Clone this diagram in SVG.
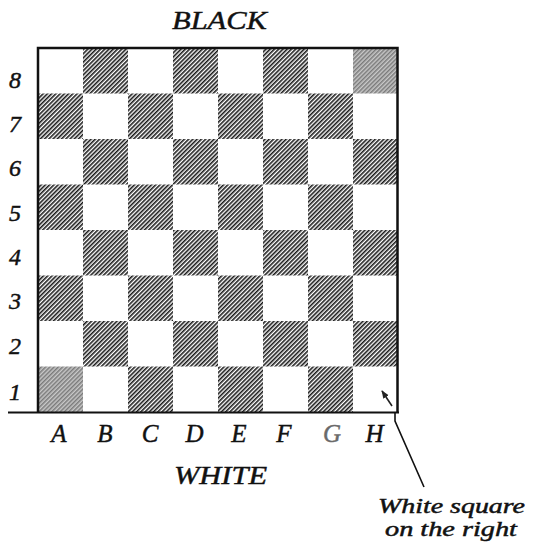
<svg xmlns="http://www.w3.org/2000/svg" width="534" height="547" viewBox="0 0 534 547">
<style>
.lbl{font-family:"Liberation Serif","DejaVu Serif",serif;font-style:italic;fill:#111;stroke:#111;stroke-width:0.45}
.d{fill:url(#hatch)}
.g{fill:url(#hatchGray)}
.border{stroke:#111;stroke-width:2.5;fill:none}
</style>
<defs>
<pattern id="hatch" width="3" height="3" patternUnits="userSpaceOnUse" patternTransform="rotate(45)">
<rect width="3" height="3" fill="#fff"/>
<rect width="1.6" height="3" fill="#1a1a1a"/>
</pattern>
<pattern id="hatchGray" width="3" height="3" patternUnits="userSpaceOnUse" patternTransform="rotate(45)">
<rect width="3" height="3" fill="#c8c8c8"/>
<rect width="1.5" height="3" fill="#7a7a7a"/>
</pattern>
<marker id="ah" viewBox="0 0 10 10" refX="9" refY="5" markerWidth="5" markerHeight="5" orient="auto">
<path d="M0,1 L10,5 L0,9 Z" fill="#222"/>
</marker>
</defs>
<rect width="534" height="547" fill="#fff"/>
<g id="board">
<g id="rank8"><rect class="d" x="83" y="48" width="45" height="45.5"/><rect class="d" x="173" y="48" width="45" height="45.5"/><rect class="d" x="263" y="48" width="45" height="45.5"/><rect class="g" x="353" y="48" width="45" height="45.5"/></g>
<g id="rank7"><rect class="d" x="38" y="93.5" width="45" height="45.5"/><rect class="d" x="128" y="93.5" width="45" height="45.5"/><rect class="d" x="218" y="93.5" width="45" height="45.5"/><rect class="d" x="308" y="93.5" width="45" height="45.5"/></g>
<g id="rank6"><rect class="d" x="83" y="139" width="45" height="45.5"/><rect class="d" x="173" y="139" width="45" height="45.5"/><rect class="d" x="263" y="139" width="45" height="45.5"/><rect class="d" x="353" y="139" width="45" height="45.5"/></g>
<g id="rank5"><rect class="d" x="38" y="184.5" width="45" height="45.5"/><rect class="d" x="128" y="184.5" width="45" height="45.5"/><rect class="d" x="218" y="184.5" width="45" height="45.5"/><rect class="d" x="308" y="184.5" width="45" height="45.5"/></g>
<g id="rank4"><rect class="d" x="83" y="230" width="45" height="45.5"/><rect class="d" x="173" y="230" width="45" height="45.5"/><rect class="d" x="263" y="230" width="45" height="45.5"/><rect class="d" x="353" y="230" width="45" height="45.5"/></g>
<g id="rank3"><rect class="d" x="38" y="275.5" width="45" height="45.5"/><rect class="d" x="128" y="275.5" width="45" height="45.5"/><rect class="d" x="218" y="275.5" width="45" height="45.5"/><rect class="d" x="308" y="275.5" width="45" height="45.5"/></g>
<g id="rank2"><rect class="d" x="83" y="321" width="45" height="45.5"/><rect class="d" x="173" y="321" width="45" height="45.5"/><rect class="d" x="263" y="321" width="45" height="45.5"/><rect class="d" x="353" y="321" width="45" height="45.5"/></g>
<g id="rank1"><rect class="g" x="38" y="366.5" width="45" height="45.5"/><rect class="d" x="128" y="366.5" width="45" height="45.5"/><rect class="d" x="218" y="366.5" width="45" height="45.5"/><rect class="d" x="308" y="366.5" width="45" height="45.5"/></g>
<path class="border" d="M38,412 V48 H397.5 V413"/>
<line x1="8" y1="412.5" x2="399" y2="412.5" stroke="#111" stroke-width="2.2"/>
</g>
<g id="rank-labels" class="lbl" font-size="24">
<text x="9" y="88">8</text>
<text x="9" y="132">7</text>
<text x="9" y="176">6</text>
<text x="9" y="221">5</text>
<text x="9" y="265">4</text>
<text x="9" y="309">3</text>
<text x="9" y="354">2</text>
<text x="9" y="400">1</text>
</g>
<g id="file-labels" class="lbl" font-size="25" text-anchor="middle">
<text x="59" y="442">A</text>
<text x="105" y="442">B</text>
<text x="150" y="442">C</text>
<text x="194.5" y="442">D</text>
<text x="239" y="442">E</text>
<text x="284" y="442">F</text>
<text x="332" y="442" style="fill:#6a6a6a;stroke:#6a6a6a">G</text>
<text x="374.5" y="442">H</text>
</g>
<g id="black-label"><text class="lbl" x="172" y="29" font-size="26" textLength="95" lengthAdjust="spacingAndGlyphs">BLACK</text></g>
<g id="white-label"><text class="lbl" x="174" y="484" font-size="26" textLength="93" lengthAdjust="spacingAndGlyphs">WHITE</text></g>
<g id="note">
<text class="lbl" x="378" y="513" font-size="20" textLength="147" lengthAdjust="spacingAndGlyphs">White square</text>
<text class="lbl" x="385" y="536" font-size="20" textLength="132" lengthAdjust="spacingAndGlyphs">on the right</text>
</g>
<g id="connectors">
<polyline points="424,487 395,421 395,412" fill="none" stroke="#111" stroke-width="1.6"/>
<line x1="392" y1="406" x2="382" y2="391" stroke="#222" stroke-width="1.6" marker-end="url(#ah)"/>
</g>
</svg>
